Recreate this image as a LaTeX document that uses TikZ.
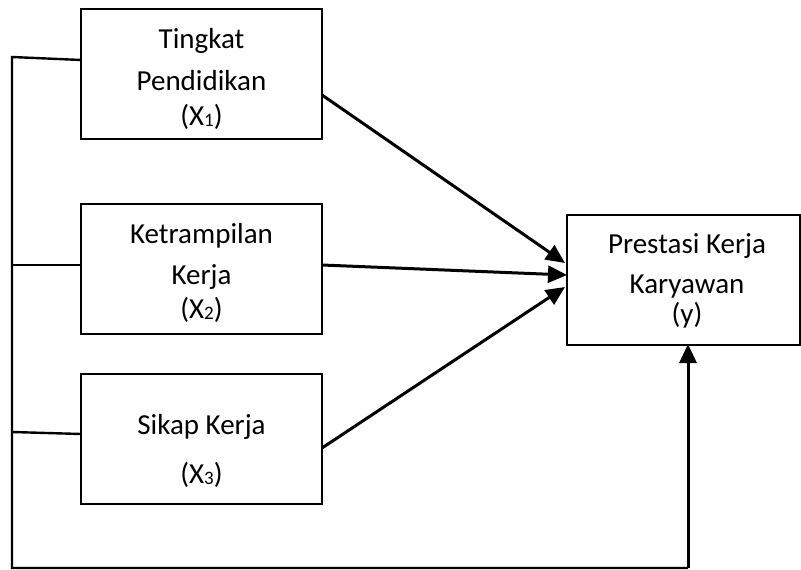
\documentclass[tikz,border=0pt]{standalone}
\usepackage{fontspec}
\setmainfont{Carlito}
\usetikzlibrary{arrows.meta,calc}
\newcommand{\sbs}[1]{{\fontsize{19}{19}\selectfont\raisebox{-1pt}{#1}}}
\begin{document}
\begin{tikzpicture}[x=1pt,y=-1pt,
  box/.style={draw,line width=2.4pt,rectangle,inner sep=0pt},
  txt/.style={anchor=base,inner sep=0pt,font=\fontsize{29}{33}\selectfont},
  ln/.style={line width=2.4pt},
  arr/.style={line width=3pt,-{Triangle[length=19pt,width=17pt]}}]
\useasboundingbox (0,0) rectangle (801,570);
% boxes
\node[box,minimum width=241pt,minimum height=130pt] (x1) at (201.5,74) {};
\node[box,minimum width=241pt,minimum height=130pt] (x2) at (201.5,269) {};
\node[box,minimum width=241pt,minimum height=130pt] (x3) at (201.5,439) {};
\node[box,minimum width=233pt,minimum height=130pt] (y) at (683.5,280) {};
% texts
\node[txt] (t1a) at (201.5,48) {Tingkat};
\node[txt] (t1b) at (201.5,90) {Pendidikan};
\node[txt] (t1c) at (201.5,125) {(X\sbs{1})};
\node[txt] (t2a) at (201.5,243) {Ketrampilan};
\node[txt] (t2b) at (201.5,284) {Kerja};
\node[txt] (t2c) at (201.5,318) {(X\sbs{2})};
\node[txt] (t3a) at (201.5,434) {Sikap Kerja};
\node[txt] (t3b) at (201.5,483) {(X\sbs{3})};
\node[txt] (tya) at (687,253) {Prestasi Kerja};
\node[txt] (tyb) at (687,293) {Karyawan};
\node[txt] (tyc) at (687,323) {(y)};
% left frame
\coordinate (c1) at (12,57);
\coordinate (c2) at (12,265);
\coordinate (c3) at (12,432);
\coordinate (cb) at (12,568);
\coordinate (cr) at (688,568);
\coordinate (e1) at (81,60);
\coordinate (e2) at (81,265);
\coordinate (e3) at (81,434);
\draw[ln] (e1) -- (c1) -- (cb) -- (cr);
\draw[arr] (cr) -- (688,344);
\draw[ln] (c2) -- (e2);
\draw[ln] (c3) -- (e3);
% arrows
\coordinate (s1) at (322,95);
\coordinate (s2) at (322,265);
\coordinate (s3) at (322,448);
\coordinate (h1) at (565,263);
\coordinate (h2) at (567,275);
\coordinate (h3) at (565,287);
\draw[arr] (s1) -- (h1);
\draw[arr] (s2) -- (h2);
\draw[arr] (s3) -- (h3);
\end{tikzpicture}
\end{document}
